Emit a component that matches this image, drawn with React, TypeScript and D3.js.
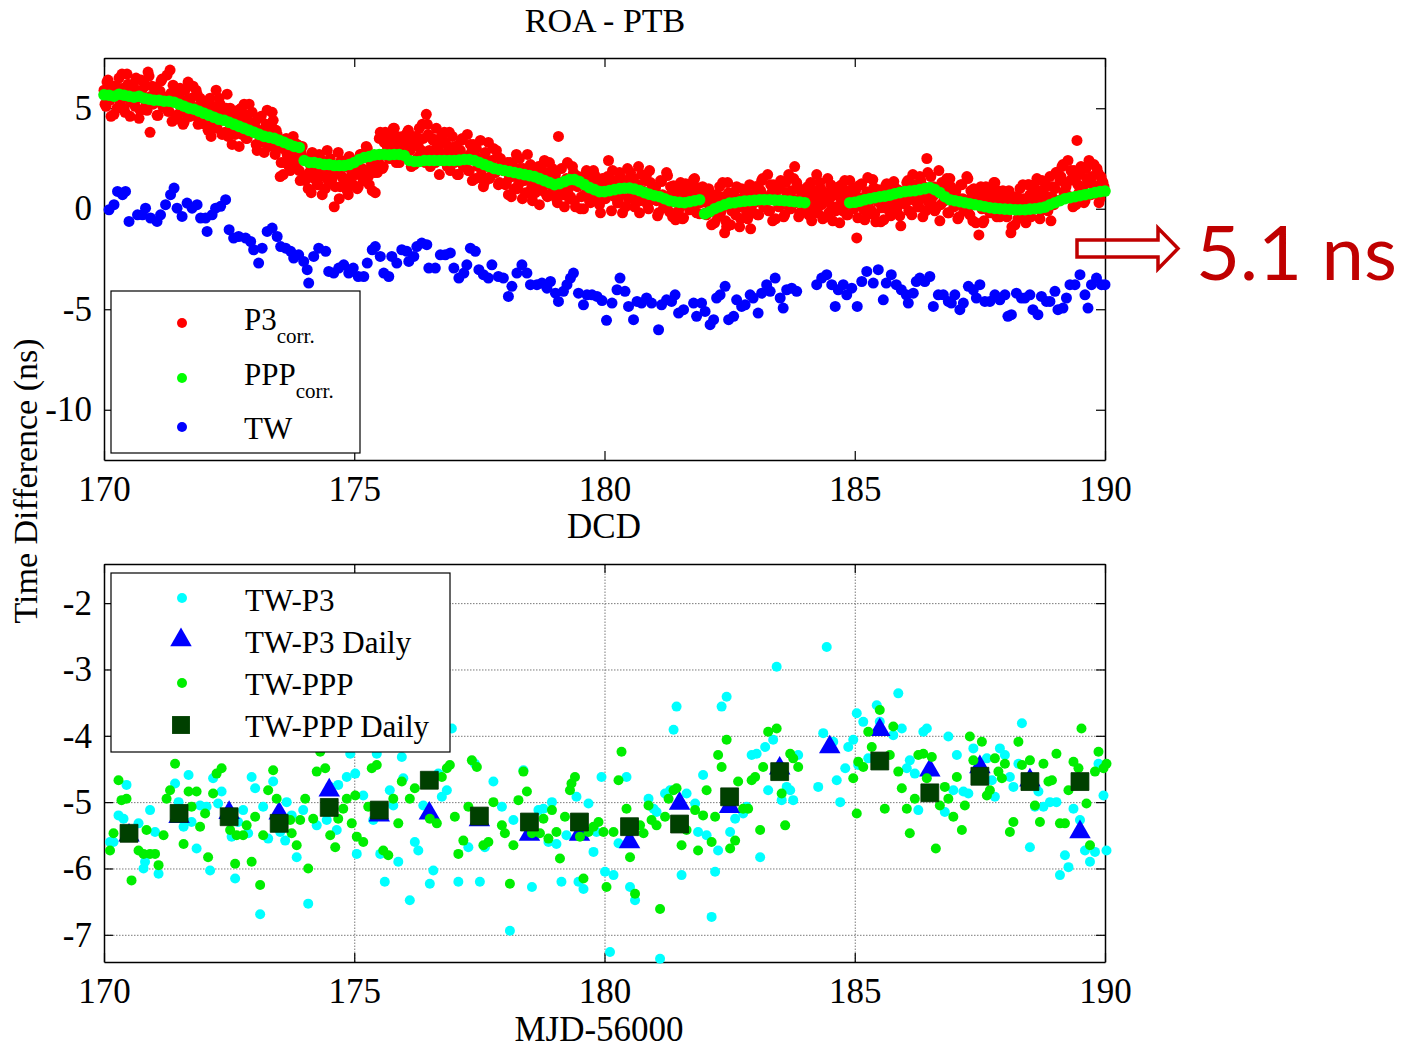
import { useEffect, useRef } from "react";
import * as d3 from "d3";

// ---- top panel: ROA - PTB time differences (ns) vs MJD-56000 ----
// P3 corrected, one value every 0.04 d starting at 170
const p3Start = 170;
const p3Step = 0.04;
const p3Corr = [
  5.9, 5.1, 6.4, 5.4, 5.7, 4.7, 6.1, 5.6, 5.2, 6.7, 5.0, 5.8, 6.2, 4.6, 6.0, 5.3, 6.5, 5.5, 4.9, 5.9, 6.3, 5.2, 6.8, 3.8, 6.1,
  5.25, 6.05, 4.65, 5.85, 6.45, 5.15, 5.55, 4.85, 6.9, 4.35, 5.65, 5.95, 4.7, 6.0, 5.0, 4.3, 5.4, 6.3, 4.6, 5.1, 4.8, 5.9, 4.2, 5.5, 5.2,
  5.1, 4.5, 3.9, 5.5, 4.8, 4.2, 5.9, 4.4, 5.2, 3.7, 4.6, 5.0, 3.6, 5.0, 3.2, 4.5, 3.9, 4.9, 4.3, 3.7, 5.2, 3.5, 4.4, 4.0, 4.8,
  4.0, 3.2, 4.5, 3.5, 3.8, 2.8, 4.2, 3.7, 3.3, 4.8, 3.1, 3.9, 3.2, 1.6, 3.0, 2.3, 3.5, 2.5, 1.9, 2.9, 3.3, 2.2, 2.6, 1.4, 3.1,
  1.6, 2.4, 1.0, 2.2, 2.8, 1.5, 1.9, 1.2, 2.5, 0.7, 2.0, 2.3, 1.4, 2.5, 1.5, 0.1, 1.9, 2.8, 1.1, 1.6, 1.3, 2.4, 0.7, 2.0, 1.7,
  2.3, 1.7, 1.1, 2.7, 2.0, 1.4, 3.1, 1.6, 2.4, 0.9, 1.8, 2.2, 2.4, 3.8, 2.0, 3.3, 2.7, 3.7, 3.1, 2.5, 4.0, 2.3, 3.2, 2.8, 3.6,
  3.4, 2.6, 3.9, 2.9, 3.2, 2.2, 3.6, 3.1, 2.7, 4.2, 2.5, 4.7, 3.7, 2.1, 3.5, 2.8, 4.0, 3.0, 2.4, 3.4, 3.8, 2.7, 3.1, 1.9, 3.6,
  2.3, 3.1, 1.7, 2.9, 3.5, 2.2, 2.6, 1.9, 3.2, 1.4, 2.7, 3.0, 2.1, 3.4, 2.4, 1.3, 2.4, 3.3, 1.6, 2.1, 1.8, 2.9, 1.2, 2.5, 2.2,
  1.9, 1.3, 0.7, 2.3, 1.6, 1.0, 2.7, 1.2, 2.0, 0.5, 1.4, 1.8, 0.8, 2.2, 0.4, 1.7, 1.1, 2.1, 1.5, 0.9, 2.4, 0.7, 1.6, 1.2, 2.0,
  1.3, 0.5, 3.6, 0.8, 1.1, 0.1, 1.5, 1.0, 0.6, 2.1, 0.4, 1.2, 1.6, 0.0, 1.4, 0.7, 1.9, 0.9, 0.3, 1.3, 1.7, 0.6, 1.0, -0.2, 1.5,
  0.7, 1.5, 2.4, 1.3, 1.9, 0.6, 1.0, 0.3, 1.6, -0.2, 1.1, 1.4, 0.5, 1.8, 0.8, 0.1, 1.2, 2.1, 0.4, 0.9, 0.6, 1.7, 0.0, 1.3, 1.0,
  1.0, 0.4, -0.2, 1.4, 0.7, 0.1, 1.8, 0.3, 1.1, -0.4, 0.5, 0.9, -0.1, 1.3, -0.5, 0.8, 0.2, 1.2, 0.6, 0.0, 1.5, -0.2, 0.7, 0.3, 1.1,
  0.5, -0.3, 1.0, 0.0, 0.3, -0.7, 0.7, 0.2, -0.2, 1.3, -1.2, -0.9, 0.8, -0.8, 0.6, -0.1, 1.1, 0.1, -0.5, 0.5, 0.9, -0.2, 0.2, -1.0, 0.7,
  0.3, 1.1, -0.3, 0.9, 1.5, 0.2, 0.6, -0.1, 1.2, -0.6, 0.7, 1.0, 0.1, 1.4, 0.4, -0.3, 0.8, 1.7, 0.0, 0.5, 2.1, 1.3, -0.4, 0.9, 0.6,
  0.9, 0.3, -0.3, 1.3, 0.6, 0.0, 1.7, 0.2, 1.0, -0.5, 0.4, 0.8, -0.2, 1.2, -0.6, 0.7, 0.1, 1.1, 0.5, -0.1, 1.4, -0.3, 0.6, 0.2, 1.0,
  0.65, -1.45, 1.15, 0.15, 0.45, -0.55, 0.85, 0.35, -0.05, 1.45, -0.25, 0.55, 0.95, -0.65, 0.75, 0.05, 1.25, 0.25, -0.35, 0.65, 1.05, -0.05, 0.35, -0.85, 0.85,
  0.5, 1.3, -0.1, 1.1, 1.7, 0.4, 0.8, 0.1, 1.4, -0.4, 0.9, 2.5, 0.3, 1.6, 0.6, -0.1, 1.0, 1.9, 0.2, 0.7, 0.4, 1.5, -0.2, 1.1, 0.8,
  0.8, 0.2, -0.4, 1.2, 0.5, -0.1, 1.6, 0.1, 0.9, -0.6, 0.3, 0.7, -1.3, 1.1, -0.7, 0.6, 0.0, 1.0, 0.4, -0.2, 1.3, -0.4, 0.5, 0.1, 0.9,
  0.4, -0.4, 0.9, -1.2, 0.2, -0.8, 0.6, 0.1, -0.3, 1.2, -0.5, 0.3, 1.2, -0.4, 1.0, 0.3, 1.5, 0.5, -0.1, 0.9, 1.3, 0.2, 0.6, -0.6, 1.1,
  1.0, 1.8, 0.4, 1.6, 2.2, 0.9, 1.3, 0.6, 1.9, 0.1, 1.4, 3.4, 0.8, 2.1, 1.1, 0.4, 1.5, 2.4, 0.7, 1.2, 0.9, 2.0, 0.3, 1.6, 1.3,
];
// second P3 receiver epochs, interleaved (start 170.02, same step)
const p3StartB = 170.02;
const p3CorrB = [
  5.2, 6.3, 5.6, 4.6, 6.1, 5.8, 5.0, 6.5, 5.4, 6.0, 4.8, 6.7, 5.7, 5.3, 6.2, 5.1, 5.9, 4.5, 6.4, 5.5, 6.1, 4.9, 6.6, 5.6, 5.2,
  6.05, 4.65, 5.65, 6.35, 5.05, 5.35, 6.65, 4.85, 5.75, 6.15, 4.45, 5.45, 5.6, 4.8, 4.2, 5.9, 5.2, 4.6, 5.5, 6.1, 4.9, 5.7, 4.4, 5.3, 5.0,
  4.2, 5.3, 4.6, 3.6, 5.1, 4.8, 4.0, 5.5, 4.4, 5.0, 3.8, 5.7, 4.3, 3.9, 4.8, 3.7, 4.5, 3.1, 5.0, 4.1, 4.7, 3.5, 5.2, 4.2, 3.8,
  4.3, 2.9, 3.9, 4.6, 3.3, 3.6, 4.9, 3.1, 4.0, 4.4, 2.7, 3.7, 3.1, 2.3, 1.7, 3.4, 2.7, 2.1, 3.0, 3.6, 2.4, 3.2, 1.9, 2.8, 2.5,
  1.4, 2.5, 1.8, 0.8, 2.3, 2.0, 1.2, 2.7, 1.6, 2.2, 1.0, 2.9, 1.7, 1.3, 2.2, 1.1, 1.9, 0.5, 2.4, 1.5, 2.1, 0.9, 2.6, 1.6, 1.2,
  2.4, 1.0, 2.0, 2.7, 1.4, 1.7, 3.0, 1.2, 2.1, 2.5, 0.8, 1.8, 3.5, 2.7, 2.1, 3.8, 3.1, 2.5, 3.4, 4.0, 2.8, 3.6, 2.3, 3.2, 2.9,
  2.7, 3.8, 3.1, 2.1, 3.6, 3.3, 2.5, 4.0, 2.9, 3.5, 2.3, 4.2, 2.9, 2.5, 3.4, 2.3, 3.1, 1.7, 3.6, 2.7, 3.3, 2.1, 3.8, 2.8, 2.4,
  3.1, 1.7, 2.7, 3.4, 2.1, 2.4, 3.7, 1.9, 2.8, 3.2, 1.5, 2.5, 2.5, 1.7, 1.1, 2.8, 2.1, 1.5, 2.4, 3.0, 1.8, 2.6, 1.3, 2.2, 1.9,
  1.2, 2.3, 1.6, 0.6, 2.1, 1.8, 1.0, 2.5, 1.4, 2.0, 0.8, 2.7, 1.4, 1.0, 1.9, 0.8, 1.6, 0.2, 2.1, 1.2, 1.8, 0.6, 2.3, 1.3, 0.9,
  1.7, 0.3, 1.3, 2.0, 0.7, 1.0, 2.3, 0.5, 1.4, 1.8, 0.1, 1.1, 1.4, 0.6, 0.0, 1.7, 1.0, 0.4, 1.3, 1.9, 0.7, 1.5, 0.2, 1.1, 0.8,
  0.5, 1.6, 0.9, -0.1, 1.4, 1.1, 0.3, 1.8, 0.7, 1.3, 0.1, 2.0, 1.0, 0.6, 1.5, 0.4, 1.2, -0.2, 1.7, 0.8, 1.4, 0.2, 1.9, 0.9, 0.5,
  1.05, -0.35, 0.65, 1.35, 0.05, 0.35, 1.65, -0.15, 0.75, 1.15, -0.55, 0.45, 0.95, 0.15, -0.45, 1.25, 0.55, -0.05, 0.85, 1.45, 0.25, 1.05, -0.25, 0.65, 0.35,
  -0.2, 0.9, 0.2, -0.8, 0.7, 0.4, -0.4, 1.1, 0.0, 0.6, -0.6, 1.3, 0.3, -0.1, 0.8, -0.3, 0.5, -0.9, 1.0, 0.1, 0.7, -0.5, 1.2, 0.2, -0.2,
  1.1, -0.3, 0.7, 1.4, 0.1, 0.4, 1.7, -0.1, 0.8, 1.2, -0.5, 0.5, 1.0, 0.2, -0.4, 1.3, 0.6, 0.0, 0.9, 1.5, 0.3, 1.1, -0.2, 0.7, 0.4,
  0.0, 1.1, 0.4, -0.6, 0.9, 0.6, -0.2, 1.3, 0.2, 0.8, -0.4, 1.5, 0.5, 0.1, 1.0, -0.1, 0.7, -0.7, 1.2, 0.3, 0.9, -0.3, 1.4, 0.4, 0.0,
  0.95, -0.45, 0.55, 1.25, -0.05, 0.25, 1.55, -0.25, 0.65, 1.05, -0.65, 0.35, 0.85, 0.05, -0.55, 1.15, 0.45, -0.15, 0.75, 1.35, 0.15, 0.95, -0.35, 0.55, 0.25,
  0.3, 1.4, 0.7, -0.3, 1.2, 0.9, 0.1, 1.6, 0.5, 1.1, -0.1, 1.8, 0.6, 0.2, 1.1, 0.0, 0.8, -0.6, 1.3, 0.4, 1.0, -0.2, 1.5, 0.5, 0.1,
  0.9, -0.5, 0.5, 1.2, -0.1, 0.2, 1.5, -0.3, 0.6, 1.0, -0.7, 0.3, 0.8, 0.0, -0.6, 1.1, 0.4, -0.2, 0.7, 1.3, 0.1, 0.9, -0.4, 0.5, 0.2,
  -0.3, 0.8, 0.1, -0.9, 0.6, 0.3, -0.5, 1.0, -0.1, 0.5, -0.7, 1.2, 0.7, 0.3, 1.2, 0.1, 0.9, -0.5, 1.4, 0.5, 1.1, -0.1, 1.6, 0.6, 0.2,
  1.8, 0.4, 1.4, 2.1, 0.8, 1.1, 2.4, 0.6, 1.5, 1.9, 0.2, 1.2, 1.7, 0.9, 0.3, 2.0, 1.3, 0.7, 1.6, 2.2, 1.0, 1.8, 0.5, 1.4, 1.1,
];

// PPP corrected, one value every 0.1 d starting at 170 (null = no solution)
const pppStart = 170;
const pppStep = 0.1;
const pppCorr: (number | null)[] = [
  5.67, 5.65, 5.6, 5.7, 5.65, 5.6, 5.55, 5.6, 5.5, 5.45,
  5.4, 5.4, 5.35, 5.35, 5.3, 5.2, 5.1, 5.0, 4.95, 4.85,
  4.75, 4.65, 4.55, 4.45, 4.4, 4.3, 4.2, 4.1, 4.0, 3.9,
  3.8, 3.7, 3.6, 3.55, 3.5, 3.4, 3.3, 3.2, 3.1, 3.05,
  2.4, 2.3, 2.3, 2.25, 2.2, 2.2, 2.15, 2.15, 2.15, 2.2,
  2.3, 2.45, 2.55, 2.6, 2.68, 2.7, 2.7, 2.68, 2.7, 2.7,
  2.65, 2.4, 2.35, 2.35, 2.4, 2.4, 2.4, 2.4, 2.4, 2.4,
  2.4, 2.42, 2.45, 2.45, 2.4, 2.3, 2.2, 2.1, 2.0, 1.95,
  1.9, 1.85, 1.8, 1.75, 1.7, 1.65, 1.6, 1.5, 1.4, 1.3,
  1.2, 1.25, 1.35, 1.45, 1.45, 1.35, 1.2, 1.05, 0.95, 0.85,
  0.85, 0.9, 0.95, 1.0, 1.02, 1.03, 0.98, 0.9, 0.8, 0.72,
  0.65, 0.6, 0.5, 0.4, 0.35, 0.32, 0.3, 0.35, 0.4, 0.45,
  -0.25, -0.15, 0.0, 0.1, 0.2, 0.28, 0.3, 0.35, 0.38, 0.4,
  0.42, 0.45, 0.45, 0.45, 0.43, 0.42, 0.4, 0.38, 0.35, 0.33,
  0.3, null, null, null, null, null, null, null, null, 0.3,
  0.32, 0.38, 0.45, 0.5, 0.55, 0.6, 0.63, 0.68, 0.75, 0.8,
  0.85, 0.88, 0.9, 0.95, 1.0, 1.05, 0.95, 0.8, 0.6, 0.45,
  0.4, 0.35, 0.3, 0.25, 0.2, 0.15, 0.1, 0.05, 0.02, 0.0,
  -0.02, -0.03, -0.05, -0.05, -0.05, -0.02, 0.0, 0.03, 0.08, 0.2,
  0.3, 0.4, 0.5, 0.55, 0.6, 0.65, 0.7, 0.75, 0.8, 0.85,
  0.88,
];

// TW (two-way) measurements
const twMjd = [
  170.1, 170.2, 170.27, 170.37, 170.43, 170.5, 170.67, 170.77, 170.83, 170.93, 171.06, 171.13, 171.23, 171.33, 171.4,
  171.46, 171.56, 171.66, 171.76, 171.86, 171.93, 172.03, 172.06, 172.16, 172.23, 172.33, 172.43, 172.5, 172.59, 172.69,
  172.83, 172.93, 172.99, 173.09, 173.16, 173.26, 173.36, 173.46, 173.53, 173.63, 173.73, 173.79, 173.89, 173.99, 174.06,
  174.09, 174.19, 174.29, 174.43, 174.49, 174.59, 174.69, 174.79, 174.89, 174.98, 175.08, 175.19, 175.26, 175.36, 175.42,
  175.52, 175.59, 175.69, 175.75, 175.85, 175.95, 176.05, 176.09, 176.19, 176.25, 176.35, 176.45, 176.49, 176.62, 176.72,
  176.82, 176.92, 176.99, 177.09, 177.19, 177.25, 177.32, 177.42, 177.49, 177.58, 177.68, 177.75, 177.88, 177.98, 178.08,
  178.15, 178.25, 178.35, 178.45, 178.52, 178.65, 178.75, 178.85, 178.92, 179.02, 179.08, 179.18, 179.25, 179.32, 179.38,
  179.48, 179.58, 179.65, 179.75, 179.85, 179.95, 180.04, 180.15, 180.25, 180.31, 180.41, 180.48, 180.58, 180.65, 180.74,
  180.84, 180.94, 181.08, 181.14, 181.24, 181.34, 181.41, 181.48, 181.58, 181.78, 181.84, 181.94, 182.01, 182.11, 182.18,
  182.24, 182.31, 182.41, 182.48, 182.58, 182.64, 182.74, 182.81, 182.91, 182.97, 183.07, 183.14, 183.24, 183.31, 183.41,
  183.51, 183.57, 183.64, 183.74, 183.84, 184.24, 184.34, 184.44, 184.54, 184.61, 184.67, 184.77, 184.84, 184.94, 185.05,
  185.14, 185.24, 185.37, 185.47, 185.57, 185.63, 185.73, 185.83, 185.93, 186.03, 186.07, 186.17, 186.23, 186.3, 186.4,
  186.5, 186.57, 186.67, 186.77, 186.87, 186.93, 187.0, 187.1, 187.17, 187.27, 187.37, 187.43, 187.5, 187.6, 187.7,
  187.8, 187.9, 188.0, 188.06, 188.13, 188.23, 188.33, 188.4, 188.5, 188.56, 188.66, 188.73, 188.83, 188.9, 189.0,
  189.06, 189.16, 189.23, 189.3, 189.4, 189.5, 189.6, 189.66, 189.73, 189.83, 189.93, 190.0,
];
const twVal = [
  -0.05, 0.2, 0.86, 0.7, 0.86, -0.63, -0.3, -0.3, 0.03, -0.46, -0.63, -0.3, 0.2, 0.7, 1.03,
  0.03, -0.38, 0.28, 0.03, 0.2, -0.46, -0.46, -1.13, -0.3, 0.03, 0.12, 0.45, -1.04, -1.46, -1.38,
  -1.46, -1.63, -2.04, -2.7, -1.96, -1.13, -0.96, -1.38, -1.88, -1.96, -2.12, -2.45, -2.29, -2.62, -3.03,
  -3.7, -2.37, -1.96, -2.12, -3.12, -3.2, -2.95, -2.79, -3.2, -2.95, -3.37, -3.37, -2.7, -2.04, -1.88,
  -2.37, -3.2, -3.37, -2.37, -2.7, -2.04, -2.12, -2.62, -2.37, -1.88, -1.71, -1.79, -2.95, -2.95, -2.29,
  -2.29, -2.2, -2.95, -3.45, -3.2, -2.79, -1.96, -2.12, -3.03, -3.28, -3.45, -2.79, -3.37, -3.45, -4.36,
  -3.86, -3.2, -2.79, -3.2, -3.78, -3.78, -3.7, -3.95, -3.62, -4.2, -4.61, -4.11, -3.78, -3.45, -3.2,
  -4.2, -4.78, -4.28, -4.28, -4.36, -4.57, -5.55, -4.69, -4.03, -3.45, -4.11, -4.86, -5.52, -4.61, -4.69,
  -4.44, -4.69, -6.02, -4.78, -4.53, -4.61, -4.28, -5.19, -5.02, -4.69, -5.35, -4.69, -5.11, -5.77, -5.52,
  -4.44, -4.28, -3.86, -5.52, -5.35, -4.53, -4.86, -4.78, -4.28, -4.44, -5.19, -4.2, -3.78, -4.11, -3.45,
  -4.44, -4.94, -4.03, -3.95, -4.11, -3.78, -3.45, -3.28, -3.78, -4.86, -4.03, -3.78, -4.28, -3.95, -4.86,
  -3.62, -3.12, -3.7, -3.03, -4.53, -3.7, -3.28, -3.78, -4.03, -4.28, -4.69, -4.2, -3.62, -3.45, -3.62,
  -3.37, -4.86, -4.28, -4.28, -4.61, -4.69, -4.28, -5.02, -4.69, -3.86, -4.03, -4.44, -3.78, -4.61, -4.61,
  -4.28, -4.53, -4.28, -5.35, -5.27, -4.2, -4.44, -4.44, -4.28, -5.02, -5.27, -4.36, -4.61, -4.61, -4.11,
  -5.02, -4.94, -4.44, -3.78, -3.78, -3.28, -4.28, -4.94, -3.78, -3.45, -3.78, -3.78,
];

// ---- bottom panel: differences [mjd, ns] ----
const twMinusP3: [number, number][] = [
  [170.12, -5.6], [170.19, -5.6], [170.29, -5.2], [170.39, -5.25], [170.45, -4.74], [170.69, -5.32], [170.82, -5.9],
  [170.79, -6.0], [170.92, -5.12], [171.02, -5.45], [171.09, -6.08], [171.42, -4.72], [171.49, -5.0], [171.59, -5.37],
  [171.69, -4.59], [171.75, -5.3], [171.85, -5.7], [171.92, -5.05], [172.05, -5.07], [172.12, -6.03], [172.18, -4.64],
  [172.28, -5.02], [172.35, -4.84], [172.55, -5.52], [172.62, -6.15], [172.68, -5.3], [172.78, -5.12], [172.88, -5.47],
  [172.95, -4.62], [173.02, -4.79], [173.12, -6.69], [173.18, -5.07], [173.28, -5.55], [173.38, -4.69], [173.52, -5.45],
  [173.62, -5.58], [173.65, -5.0], [173.75, -5.2], [173.85, -5.83], [173.98, -5.12], [174.08, -6.53], [174.25, -5.35],
  [174.45, -5.27], [174.52, -4.77], [174.65, -5.42], [174.68, -4.74], [174.85, -4.62], [174.92, -4.27], [175.02, -4.57],
  [175.05, -5.78], [175.18, -4.9], [175.38, -5.27], [175.45, -4.27], [175.52, -5.78], [175.61, -6.2], [175.71, -4.82],
  [175.78, -5.05], [175.88, -5.9], [175.95, -4.32], [175.98, -4.64], [176.11, -6.48], [176.21, -5.6], [176.28, -5.73],
  [176.38, -5.05], [176.51, -6.23], [176.58, -6.03], [176.68, -4.57], [176.75, -4.92], [176.85, -4.82], [176.95, -3.89],
  [177.08, -6.2], [177.28, -5.68], [177.41, -4.42], [177.51, -6.2], [177.61, -5.68], [177.78, -4.69], [177.95, -5.07],
  [178.11, -6.94], [178.18, -5.27], [178.38, -4.52], [178.55, -6.28], [178.68, -5.12], [178.78, -5.1], [178.88, -5.6],
  [178.95, -5.0], [179.04, -5.63], [179.14, -6.2], [179.24, -5.5], [179.44, -4.92], [179.48, -6.2], [179.58, -6.31],
  [179.68, -5.02], [179.78, -5.75], [179.84, -5.45], [179.94, -4.62], [180.01, -6.05], [180.11, -7.26], [180.18, -6.1],
  [180.28, -5.62], [180.44, -4.62], [180.51, -6.28], [180.61, -6.48], [180.88, -4.95], [180.98, -5.1], [181.04, -5.15],
  [181.11, -7.36], [181.21, -4.87], [181.31, -4.82], [181.38, -3.91], [181.44, -3.56], [181.54, -6.1], [181.64, -4.87],
  [181.81, -5.02], [181.87, -5.45], [181.97, -4.59], [182.04, -5.5], [182.14, -6.73], [182.21, -6.05], [182.27, -5.73],
  [182.34, -3.56], [182.44, -3.41], [182.51, -5.45], [182.61, -5.25], [182.77, -5.17], [182.84, -5.07], [182.94, -4.29],
  [183.04, -4.27], [183.11, -5.83], [183.21, -4.17], [183.27, -4.82], [183.37, -4.06], [183.44, -2.96], [183.54, -4.97],
  [183.64, -4.77], [183.71, -4.82], [183.77, -4.97], [183.87, -4.29], [184.27, -4.77], [184.37, -3.96], [184.44, -2.66],
  [184.57, -4.09], [184.64, -4.67], [184.71, -5.0], [184.81, -4.49], [184.87, -4.17], [184.97, -4.06], [185.04, -3.66],
  [185.07, -4.44], [185.17, -3.79], [185.27, -4.34], [185.44, -3.54], [185.5, -3.79], [185.77, -3.99], [185.87, -3.36],
  [185.94, -3.89], [186.04, -4.49], [186.1, -4.37], [186.2, -4.57], [186.27, -5.12], [186.37, -3.94], [186.44, -3.89],
  [186.8, -5.15], [186.87, -4.01], [186.97, -4.82], [187.04, -4.29], [187.17, -4.84], [187.27, -4.87], [187.37, -4.19],
  [187.64, -4.34], [187.74, -4.67], [187.8, -4.92], [187.9, -4.19], [188.0, -4.29], [188.1, -4.62], [188.17, -4.77],
  [188.27, -4.42], [188.34, -3.81], [188.5, -5.68], [188.6, -5.07], [188.67, -4.84], [188.77, -5.07], [188.9, -5.0],
  [189.03, -5.0], [189.1, -6.1], [189.2, -5.8], [189.27, -5.98], [189.37, -5.1], [189.5, -5.27], [189.6, -5.73],
  [189.7, -5.9], [189.8, -5.75], [189.87, -4.42], [189.97, -4.9], [190.03, -5.73],
];

const twMinusPpp: [number, number][] = [
  [170.12, -5.73], [170.19, -5.47], [170.29, -4.67], [170.35, -4.97], [170.45, -4.95], [170.55, -6.18], [170.69, -5.73],
  [170.79, -5.78], [170.85, -5.42], [170.92, -5.78], [171.02, -5.78], [171.09, -5.95], [171.19, -5.5], [171.25, -4.95],
  [171.32, -4.82], [171.42, -4.42], [171.59, -5.63], [171.69, -4.84], [171.75, -5.07], [171.85, -4.84], [171.92, -5.37],
  [172.02, -5.17], [172.08, -5.83], [172.18, -4.87], [172.25, -4.57], [172.35, -4.49], [172.52, -5.42], [172.62, -5.93],
  [172.65, -5.5], [172.78, -5.5], [172.85, -5.35], [172.95, -5.9], [173.02, -5.22], [173.12, -6.25], [173.18, -5.5],
  [173.28, -4.82], [173.38, -4.52], [173.45, -4.95], [173.72, -5.27], [173.75, -5.47], [173.85, -5.65], [173.92, -5.27],
  [174.02, -4.95], [174.08, -6.0], [174.18, -5.25], [174.25, -4.54], [174.32, -4.24], [174.42, -4.49], [174.52, -5.5],
  [174.62, -5.68], [174.68, -5.25], [174.78, -5.1], [174.85, -4.95], [174.95, -5.32], [175.02, -4.9], [175.05, -5.52],
  [175.18, -5.6], [175.28, -5.07], [175.35, -4.49], [175.45, -4.44], [175.58, -5.73], [175.68, -5.8], [175.78, -4.95],
  [175.88, -5.32], [175.95, -4.69], [176.11, -4.95], [176.21, -4.79], [176.51, -5.25], [176.65, -5.32], [176.75, -4.62],
  [176.85, -4.49], [176.91, -4.44], [177.01, -5.22], [177.08, -5.78], [177.18, -5.58], [177.28, -5.07], [177.35, -4.37],
  [177.45, -4.47], [177.58, -5.65], [177.68, -5.6], [177.78, -5.0], [177.95, -5.35], [178.01, -5.47], [178.11, -6.23],
  [178.18, -5.65], [178.28, -4.97], [178.38, -4.54], [178.45, -4.84], [178.55, -5.47], [178.71, -5.47], [178.78, -5.25],
  [178.88, -5.55], [178.95, -5.12], [179.04, -5.45], [179.11, -5.85], [179.21, -5.22], [179.31, -4.82], [179.34, -4.72],
  [179.41, -4.62], [179.51, -5.52], [179.58, -6.15], [179.68, -5.45], [179.78, -5.37], [179.88, -5.3], [179.98, -5.45],
  [180.04, -6.28], [180.18, -5.45], [180.28, -4.67], [180.34, -4.24], [180.44, -5.1], [180.51, -5.83], [180.61, -6.38],
  [180.71, -5.35], [180.78, -5.47], [180.88, -5.05], [180.94, -5.27], [181.04, -5.35], [181.11, -6.61], [181.21, -5.22],
  [181.28, -4.95], [181.38, -4.82], [181.44, -4.79], [181.54, -5.65], [181.64, -5.42], [181.81, -5.12], [181.87, -5.73],
  [181.97, -5.2], [182.04, -4.82], [182.14, -5.6], [182.21, -5.22], [182.27, -4.29], [182.34, -4.47], [182.44, -4.06],
  [182.51, -5.7], [182.61, -5.58], [182.67, -4.69], [182.77, -5.1], [182.87, -5.1], [182.94, -4.67], [183.01, -4.62],
  [183.11, -5.42], [183.17, -4.47], [183.27, -3.94], [183.44, -3.89], [183.54, -4.87], [183.61, -5.35], [183.71, -4.27],
  [183.77, -4.34], [183.87, -4.47], [184.97, -4.64], [185.04, -5.17], [185.07, -4.39], [185.17, -4.47], [185.27, -3.94],
  [185.34, -4.17], [185.5, -3.61], [185.6, -5.1], [185.7, -4.29], [185.77, -3.86], [185.87, -4.54], [185.94, -4.79],
  [186.04, -5.1], [186.1, -5.47], [186.2, -4.95], [186.27, -4.29], [186.37, -4.27], [186.44, -4.64], [186.54, -4.32],
  [186.62, -5.7], [186.7, -5.05], [186.8, -4.77], [186.87, -4.95], [186.97, -5.22], [187.04, -4.62], [187.14, -5.42],
  [187.2, -5.05], [187.3, -4.01], [187.37, -4.37], [187.54, -4.09], [187.64, -4.9], [187.7, -4.82], [187.8, -4.34],
  [187.87, -4.54], [187.94, -4.64], [188.0, -4.42], [188.1, -5.45], [188.17, -5.3], [188.27, -4.09], [188.34, -4.44],
  [188.5, -4.37], [188.6, -5.05], [188.7, -5.3], [188.77, -4.42], [188.87, -4.69], [188.94, -4.67], [189.03, -4.27],
  [189.1, -5.32], [189.2, -5.32], [189.27, -4.82], [189.37, -4.39], [189.47, -4.49], [189.53, -3.89], [189.63, -5.02],
  [189.7, -5.65], [189.8, -4.54], [189.87, -4.24], [189.97, -4.49], [190.03, -4.42],
];

const dailyMjd = [
  170.5, 171.5, 172.5, 173.5, 174.5, 175.5, 176.5, 177.5, 178.5, 179.5,
  180.5, 181.5, 182.5, 183.5, 184.5, 185.5, 186.5, 187.5, 188.5, 189.5,
];
const twMinusP3Daily = [
  -5.5, -5.22, -5.16, -5.17, -4.82, -5.2, -5.17, -5.27, -5.49, -5.49,
  -5.6, -5.02, -5.07, -4.49, -4.17, -3.91, -4.52, -4.47, -4.67, -5.45,
];
const twMinusPppDaily: (number | null)[] = [
  -5.47, -5.17, -5.22, -5.32, -5.08, -5.12, -4.67, -5.21, -5.3, -5.3,
  -5.37, -5.33, -4.92, -4.54, null, -4.38, -4.86, -4.61, -4.69, -4.69,
];

const xTicks = [170, 175, 180, 185, 190];
const topYTicks = [-10, -5, 0, 5];
const bottomYTicks = [-7, -6, -5, -4, -3, -2];

const SERIF = "'Liberation Serif', 'Times New Roman', serif";
const W = 1412;
const H = 1051;

const App = () => {
  const svgRef = useRef<SVGSVGElement | null>(null);

  useEffect(() => {
    const svg = d3.select(svgRef.current);
    svg.selectAll("*").remove();

    const left = 104;
    const right = 1105;
    const topPanel = { top: 58, bottom: 460 };
    const botPanel = { top: 564, bottom: 962 };

    const x = d3.scaleLinear().domain([170, 190]).range([left, right]);
    const yTop = d3.scaleLinear().domain([-12.5, 7.5]).range([topPanel.bottom, topPanel.top]);
    const yBot = d3.scaleLinear().domain([-7.41, -1.41]).range([botPanel.bottom, botPanel.top]);
    const plain = (d: d3.NumberValue) => String(d); // hyphen minus like MATLAB

    svg.append("rect").attr("width", W).attr("height", H).attr("fill", "white");

    // axes frame + inward ticks (MATLAB style)
    const drawFrame = (y: d3.ScaleLinear<number, number>, yTicks: number[], p: { top: number; bottom: number }, grid: boolean) => {
      const g = svg.append("g");
      if (grid) {
        g.append("g")
          .attr("transform", `translate(${left},0)`)
          .call(d3.axisLeft(y).tickValues(yTicks).tickSize(-(right - left)).tickFormat(() => ""))
          .call((s) => s.select(".domain").remove())
          .selectAll("line")
          .attr("stroke", "#7a7a7a")
          .attr("stroke-dasharray", "1.5,1.5");
        g.append("g")
          .attr("transform", `translate(0,${p.bottom})`)
          .call(d3.axisBottom(x).tickValues([175, 180, 185]).tickSize(-(p.bottom - p.top)).tickFormat(() => ""))
          .call((s) => s.select(".domain").remove())
          .selectAll("line")
          .attr("stroke", "#7a7a7a")
          .attr("stroke-dasharray", "1.5,1.5");
      }
      const axes = [
        g.append("g").attr("transform", `translate(0,${p.bottom})`)
          .call(d3.axisBottom(x).tickValues(xTicks).tickSizeInner(-9).tickSizeOuter(0).tickPadding(16).tickFormat(plain)),
        g.append("g").attr("transform", `translate(0,${p.top})`)
          .call(d3.axisTop(x).tickValues(xTicks).tickSizeInner(-9).tickSizeOuter(0).tickFormat(() => "")),
        g.append("g").attr("transform", `translate(${left},0)`)
          .call(d3.axisLeft(y).tickValues(yTicks).tickSizeInner(-9).tickSizeOuter(0).tickPadding(12).tickFormat(plain)),
        g.append("g").attr("transform", `translate(${right},0)`)
          .call(d3.axisRight(y).tickValues(yTicks).tickSizeInner(-9).tickSizeOuter(0).tickFormat(() => "")),
      ];
      axes.forEach((a) => {
        a.select(".domain").attr("stroke", "#000").attr("stroke-width", 1.5);
        a.selectAll(".tick line").attr("stroke", "#000").attr("stroke-width", 1.2);
        a.selectAll("text").attr("font-family", SERIF).attr("font-size", 35).attr("fill", "#000");
      });
    };

    drawFrame(yTop, topYTicks, topPanel, false);
    drawFrame(yBot, bottomYTicks, botPanel, true);

    // top panel data
    const top = svg.append("g");
    const p3Points = [
      ...p3Corr.map((v, i) => ({ t: p3Start + i * p3Step, v })),
      ...p3CorrB.map((v, i) => ({ t: p3StartB + i * p3Step, v })),
    ];
    top.selectAll(".p3")
      .data(p3Points)
      .join("circle")
      .attr("cx", (d) => x(d.t))
      .attr("cy", (d) => yTop(d.v))
      .attr("r", 5.5)
      .attr("fill", "#ff0000");
    top.selectAll(".ppp")
      .data(pppCorr.map((v, i) => ({ t: pppStart + i * pppStep, v })).filter((d) => d.v !== null))
      .join("circle")
      .attr("cx", (d) => x(d.t))
      .attr("cy", (d) => yTop(d.v as number))
      .attr("r", 5.8)
      .attr("fill", "#00ff00");
    top.selectAll(".tw")
      .data(twMjd.map((t, i) => ({ t, v: twVal[i] })))
      .join("circle")
      .attr("cx", (d) => x(d.t))
      .attr("cy", (d) => yTop(d.v))
      .attr("r", 5.5)
      .attr("fill", "#0000ff");

    // bottom panel data
    const bot = svg.append("g");
    const tri = d3.symbol().type(d3.symbolTriangle).size(200);
    const sq = d3.symbol().type(d3.symbolSquare).size(320);
    bot.selectAll(".twp3")
      .data(twMinusP3)
      .join("circle")
      .attr("cx", (d) => x(d[0]))
      .attr("cy", (d) => yBot(d[1]))
      .attr("r", 5)
      .attr("fill", "#00ffff");
    bot.selectAll(".twp3d")
      .data(dailyMjd.map((t, i) => ({ t, v: twMinusP3Daily[i] })))
      .join("path")
      .attr("d", tri)
      .attr("transform", (d) => `translate(${x(d.t)},${yBot(d.v)})`)
      .attr("fill", "#0000ff");
    bot.selectAll(".twppp")
      .data(twMinusPpp)
      .join("circle")
      .attr("cx", (d) => x(d[0]))
      .attr("cy", (d) => yBot(d[1]))
      .attr("r", 5)
      .attr("fill", "#00ee00");
    bot.selectAll(".twpppd")
      .data(dailyMjd.map((t, i) => ({ t, v: twMinusPppDaily[i] })).filter((d) => d.v !== null))
      .join("path")
      .attr("d", sq)
      .attr("transform", (d) => `translate(${x(d.t)},${yBot(d.v as number)})`)
      .attr("fill", "#004000")
      .attr("stroke", "#003000")
      .attr("stroke-width", 0.8);

    // legends
    const legend1 = svg.append("g");
    legend1.append("rect")
      .attr("x", 111).attr("y", 291).attr("width", 249).attr("height", 162)
      .attr("fill", "white").attr("stroke", "#000").attr("stroke-width", 1.2);
    const l1 = [
      { c: "#ff0000", y: 323, main: "P3", sub: "corr.", tx: 244, ty: 330 },
      { c: "#00ff00", y: 378, main: "PPP", sub: "corr.", tx: 244, ty: 385 },
      { c: "#0000ff", y: 427, main: "TW", sub: "", tx: 244, ty: 439 },
    ];
    l1.forEach((e) => {
      legend1.append("circle").attr("cx", 182).attr("cy", e.y).attr("r", 5).attr("fill", e.c);
      const t = legend1.append("text")
        .attr("x", e.tx).attr("y", e.ty)
        .attr("font-family", SERIF).attr("font-size", 31).attr("fill", "#000");
      t.append("tspan").text(e.main);
      if (e.sub) {
        t.append("tspan").attr("dy", 13).attr("font-size", 21).text(e.sub);
      }
    });

    const legend2 = svg.append("g");
    legend2.append("rect")
      .attr("x", 111).attr("y", 573).attr("width", 339).attr("height", 179)
      .attr("fill", "white").attr("stroke", "#000").attr("stroke-width", 1.2);
    legend2.append("circle").attr("cx", 182).attr("cy", 598).attr("r", 5).attr("fill", "#00ffff");
    legend2.append("path").attr("d", tri).attr("transform", "translate(181,640)").attr("fill", "#0000ff");
    legend2.append("circle").attr("cx", 182).attr("cy", 683).attr("r", 5).attr("fill", "#00ee00");
    legend2.append("path").attr("d", sq).attr("transform", "translate(181,725)").attr("fill", "#004000");
    const l2 = [
      { s: "TW-P3", y: 611 },
      { s: "TW-P3 Daily", y: 653 },
      { s: "TW-PPP", y: 695 },
      { s: "TW-PPP Daily", y: 737 },
    ];
    legend2.selectAll(".lt")
      .data(l2)
      .join("text")
      .attr("x", 245)
      .attr("y", (d) => d.y)
      .attr("font-family", SERIF)
      .attr("font-size", 31)
      .text((d) => d.s);

    // titles and labels
    const label = (s: string, xp: number, yp: number, size: number) =>
      svg.append("text")
        .attr("x", xp).attr("y", yp)
        .attr("text-anchor", "middle")
        .attr("font-family", SERIF)
        .attr("font-size", size)
        .attr("fill", "#000")
        .text(s);
    label("ROA - PTB", 605, 32, 34);
    label("DCD", 604, 538, 35);
    label("MJD-56000", 599, 1041, 35);
    svg.append("text")
      .attr("transform", "translate(37,481) rotate(-90)")
      .attr("text-anchor", "middle")
      .attr("font-family", SERIF)
      .attr("font-size", 34)
      .text("Time Difference (ns)");

    // annotation arrow + offset
    const arrow = d3.path();
    arrow.moveTo(1077, 240);
    arrow.lineTo(1158, 240);
    arrow.lineTo(1158, 228);
    arrow.lineTo(1178, 248.5);
    arrow.lineTo(1158, 269);
    arrow.lineTo(1158, 257);
    arrow.lineTo(1077, 257);
    arrow.closePath();
    svg.append("path")
      .attr("d", arrow.toString())
      .attr("fill", "none")
      .attr("stroke", "#c00000")
      .attr("stroke-width", 3.5)
      .attr("stroke-linejoin", "miter");
    svg.append("text")
      .attr("x", 1196).attr("y", 280)
      .attr("font-family", "Lato, 'Open Sans', sans-serif")
      .attr("font-size", 76)
      .attr("fill", "#c00000")
      .text("5.1 ns");
  }, []);

  return (
    <svg
      ref={svgRef}
      width={W}
      height={H}
      style={{ position: "absolute", left: 0, top: 0, display: "block" }}
    />
  );
};

export default App;
